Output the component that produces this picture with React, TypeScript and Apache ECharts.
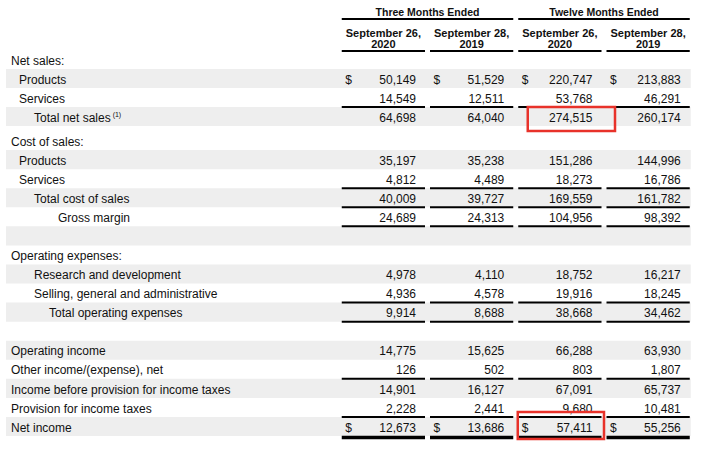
import React, { useEffect, useRef } from "react";
import * as echarts from "echarts";

// ---------- data ----------
const groupHeaders = ["Three Months Ended", "Twelve Months Ended"];
const columnHeaders = [
  "September 26,\n2020",
  "September 28,\n2019",
  "September 26,\n2020",
  "September 28,\n2019",
];
const rowLabels = [
  "Net sales:",
  "Products",
  "Services",
  "Total net sales",
  "Cost of sales:",
  "Products",
  "Services",
  "Total cost of sales",
  "Gross margin",
  "",
  "Operating expenses:",
  "Research and development",
  "Selling, general and administrative",
  "Total operating expenses",
  "",
  "Operating income",
  "Other income/(expense), net",
  "Income before provision for income taxes",
  "Provision for income taxes",
  "Net income",
];
const rowIndent = [0, 1, 1, 2, 0, 1, 1, 2, 4, 0, 0, 2, 2, 3, 0, 0, 0, 0, 0, 0];
const labelNotes: Record<number, string> = { 3: "(1)" };

const threeMonths2020 = [null, 50149, 14549, 64698, null, 35197, 4812, 40009, 24689, null, null, 4978, 4936, 9914, null, 14775, 126, 14901, 2228, 12673];
const threeMonths2019 = [null, 51529, 12511, 64040, null, 35238, 4489, 39727, 24313, null, null, 4110, 4578, 8688, null, 15625, 502, 16127, 2441, 13686];
const twelveMonths2020 = [null, 220747, 53768, 274515, null, 151286, 18273, 169559, 104956, null, null, 18752, 19916, 38668, null, 66288, 803, 67091, 9680, 57411];
const twelveMonths2019 = [null, 213883, 46291, 260174, null, 144996, 16786, 161782, 98392, null, null, 16217, 18245, 34462, null, 63930, 1807, 65737, 10481, 55256];
const columns = [threeMonths2020, threeMonths2019, twelveMonths2020, twelveMonths2019];

const dollarRows = [1, 19];
const ruleAboveRows = [3, 7, 8, 13, 17, 19];
const ruleBelowRows = [8, 13];
const doubleRuleBelowRows = [19];
const highlightCells: [number, number][] = [
  [3, 2],
  [19, 2],
];

// ---------- styles ----------
const FONT = '"Liberation Sans", Arial, Helvetica, sans-serif';
const TEXT = "#111111";
const SHADE = "#eeeeee";
const RED = "#e8322a";
const TABLE_LEFT = 6;
const TEXT_DY = 1.2;
const indentPx = [11, 19, 34, 49, 58];
// hand-drawn annotation box offsets relative to the cell band [left, top, right, bottom]
const highlightPad: [number, number, number, number][] = [
  [13.5, 0, 12.5, 5],
  [3.5, -5, 1.5, 3],
];
const GRID1_ROWS = 4;

export default function App() {
  const ref = useRef<HTMLDivElement>(null);

  useEffect(() => {
    document.body.style.margin = "0";
    const chart = echarts.init(ref.current!, null, { renderer: "svg" });

    const makeRender = (offset: number) => (params: any, api: any) => {
      const local = api.value(1);
      const g = local + offset;
      const cs = params.coordSys;
      const cy = api.coord([0, local])[1];
      const bandW = api.size([1, 0])[0];
      const rowH = api.size([0, 1])[1];
      const top = cy - rowH / 2;
      const bottom = cy + rowH / 2;
      const right = cs.x + cs.width;
      const children: any[] = [];
      const band = (c: number) => {
        const x = api.coord([c, local])[0];
        return [x - bandW / 2, x + bandW / 2];
      };
      const rule = (c: number, y: number, w: number) => {
        const [l, r] = band(c);
        return {
          type: "line",
          z2: 10,
          shape: { x1: l + 4, y1: y, x2: r - 1, y2: y },
          style: { stroke: "#000", lineWidth: w },
        };
      };

      if (g % 2 === 1) {
        children.push({
          type: "rect",
          shape: { x: TABLE_LEFT, y: top, width: right - TABLE_LEFT, height: rowH },
          style: { fill: SHADE },
        });
      }

      // label
      const label = rowLabels[g];
      if (label) {
        const note = labelNotes[g];
        children.push({
          type: "text",
          z2: 5,
          style: {
            x: indentPx[rowIndent[g]],
            y: cy + TEXT_DY,
            text: note ? `{m|${label}}{s| ${note}}` : label,
            font: `12px ${FONT}`,
            fill: TEXT,
            align: "left",
            verticalAlign: "middle",
            rich: note
              ? {
                  m: { fontSize: 12, fontFamily: FONT, fill: TEXT },
                  s: { fontSize: 7, fontFamily: FONT, fill: TEXT, verticalAlign: "top", padding: [0, 0, 6, 0] },
                }
              : undefined,
          },
        });
      }

      // values
      for (let c = 0; c < columns.length; c++) {
        const v = columns[c][g];
        const [l, r] = band(c);
        if (v !== null && v !== undefined) {
          children.push({
            type: "text",
            z2: 5,
            style: {
              x: r - 10,
              y: cy + TEXT_DY,
              text: v.toLocaleString("en-US"),
              font: `12px ${FONT}`,
              fill: TEXT,
              align: "right",
              verticalAlign: "middle",
            },
          });
          if (dollarRows.includes(g)) {
            children.push({
              type: "text",
              z2: 5,
              style: {
                x: l + 7.5,
                y: cy + TEXT_DY,
                text: "$",
                font: `12px ${FONT}`,
                fill: TEXT,
                align: "left",
                verticalAlign: "middle",
              },
            });
          }
        }
        if (ruleAboveRows.includes(g)) children.push(rule(c, top, 2));
        if (ruleBelowRows.includes(g)) children.push(rule(c, bottom, 2));
        if (doubleRuleBelowRows.includes(g)) children.push(rule(c, bottom + 1.5, 3.5));
      }

      // highlight boxes
      highlightCells.forEach(([hr, hc], i) => {
        if (hr !== g) return;
        const [l, r] = band(hc);
        const p = highlightPad[i];
        children.push({
          type: "rect",
          z2: 20,
          shape: { x: l + p[0], y: top + p[1], width: r + p[2] - (l + p[0]), height: bottom + p[3] - (top + p[1]) },
          style: { fill: "none", stroke: RED, lineWidth: 2.5 },
        });
      });

      // headers (drawn with the first row)
      if (g === 0) {
        for (let c = 0; c < columns.length; c++) {
          const [l, r] = band(c);
          children.push({
            type: "text",
            z2: 5,
            style: {
              x: (l + 4 + r - 1) / 2,
              y: top - 0.5,
              text: columnHeaders[c],
              font: `bold 11px ${FONT}`,
              lineHeight: 11,
              fill: TEXT,
              align: "center",
              verticalAlign: "bottom",
            },
          });
          children.push(rule(c, top + 1, 2));
        }
        groupHeaders.forEach((h, k) => {
          const [l] = band(k * 2);
          const [, r] = band(k * 2 + 1);
          children.push({
            type: "text",
            z2: 5,
            style: {
              x: (l + 4 + r - 1) / 2,
              y: top - 38.5,
              text: h,
              font: `bold 10.5px ${FONT}`,
              fill: TEXT,
              align: "center",
              verticalAlign: "middle",
            },
          });
          children.push({
            type: "line",
            z2: 10,
            shape: { x1: l + 4, y1: top - 31, x2: r - 1, y2: top - 31 },
            style: { stroke: "#000", lineWidth: 2 },
          });
        });
      }

      return { type: "group", children };
    };

    const rows1 = rowLabels.slice(0, GRID1_ROWS);
    const rows2 = rowLabels.slice(GRID1_ROWS);

    chart.setOption({
      animation: false,
      backgroundColor: "#ffffff",
      grid: [
        { left: 337.75, right: 10.25, top: 50, height: 76 },
        { left: 337.75, right: 10.25, top: 131, height: 305 },
      ],
      xAxis: [
        { type: "category", gridIndex: 0, data: columnHeaders, show: false },
        { type: "category", gridIndex: 1, data: columnHeaders, show: false },
      ],
      yAxis: [
        { type: "category", gridIndex: 0, data: rows1.map((r, i) => r || `blank${i}`), inverse: true, show: false },
        { type: "category", gridIndex: 1, data: rows2.map((r, i) => r || `blank${i}`), inverse: true, show: false },
      ],
      series: [
        {
          type: "custom",
          xAxisIndex: 0,
          yAxisIndex: 0,
          silent: true,
          clip: false,
          encode: { x: 0, y: 1 },
          data: rows1.map((_, i) => [0, i]),
          renderItem: makeRender(0),
        },
        {
          type: "custom",
          xAxisIndex: 1,
          yAxisIndex: 1,
          silent: true,
          clip: false,
          encode: { x: 0, y: 1 },
          data: rows2.map((_, i) => [0, i]),
          renderItem: makeRender(GRID1_ROWS),
        },
      ],
    });

    return () => chart.dispose();
  }, []);

  return <div ref={ref} style={{ width: 701, height: 451 }} />;
}
